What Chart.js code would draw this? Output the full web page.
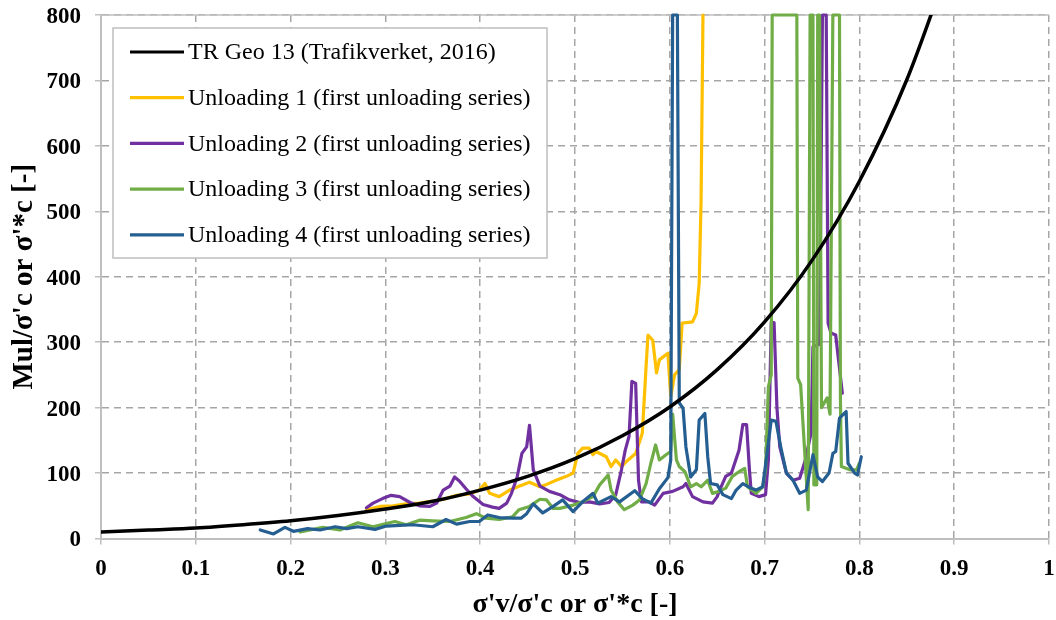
<!DOCTYPE html>
<html>
<head>
<meta charset="utf-8">
<title>Mul/σ'c vs σ'v/σ'c</title>
<script src="https://cdn.jsdelivr.net/npm/chart.js@4.4.1/dist/chart.umd.min.js"></script>
<style>
  html, body { margin: 0; padding: 0; background: #fff; }
  #wrap { width: 1056px; height: 620px; }
</style>
</head>
<body>
<div id="wrap"><canvas id="chart" width="1056" height="620"></canvas></div>
<script>
// ---------- data ----------
const seriesNames = [
    'TR Geo 13 (Trafikverket, 2016)',
    'Unloading 1 (first unloading series)',
    'Unloading 2 (first unloading series)',
    'Unloading 3 (first unloading series)',
    'Unloading 4 (first unloading series)'
];

// reference curve, read at 0.05 steps
const trGeoX = [0, 0.05, 0.1, 0.15, 0.2, 0.25, 0.3, 0.35, 0.4, 0.45, 0.5, 0.55, 0.6, 0.65, 0.7, 0.75, 0.8, 0.85, 0.9];
const trGeoY = [10, 13, 16, 21, 27, 35, 45, 57, 74, 95, 122, 157, 201, 258, 331, 425, 546, 701, 900];

// measured series, [σ'v/σ'c, Mul/σ'c]
const unloading1 = [[0.280,44],[0.294,49],[0.308,50],[0.322,53],[0.336,54],[0.350,57],[0.364,61],[0.375,66],[0.389,68],[0.399,74],[0.405,84],[0.410,69],[0.420,64],[0.431,74],[0.441,80],[0.452,86],[0.463,79],[0.469,82],[0.480,89],[0.491,95],[0.498,100],[0.503,130],[0.508,138],[0.515,138],[0.519,128],[0.522,133],[0.533,125],[0.538,110],[0.543,120],[0.549,110],[0.556,120],[0.564,130],[0.571,161],[0.575,263],[0.577,311],[0.582,303],[0.586,253],[0.589,273],[0.598,283],[0.601,217],[0.605,250],[0.610,258],[0.613,329],[0.624,331],[0.628,344],[0.631,390],[0.633,517],[0.635,800]];

const unloading2 = [[0.280,47],[0.287,54],[0.297,61],[0.306,66],[0.315,64],[0.326,55],[0.336,50],[0.347,49],[0.354,54],[0.361,74],[0.368,80],[0.373,94],[0.378,88],[0.385,76],[0.392,65],[0.403,52],[0.413,48],[0.420,46],[0.428,54],[0.433,69],[0.439,94],[0.444,130],[0.449,140],[0.452,173],[0.456,105],[0.463,80],[0.473,72],[0.484,67],[0.494,59],[0.505,55],[0.515,56],[0.526,53],[0.536,55],[0.543,67],[0.549,105],[0.553,135],[0.557,156],[0.560,240],[0.564,237],[0.567,89],[0.570,56],[0.578,56],[0.584,51],[0.593,69],[0.603,72],[0.614,79],[0.617,84],[0.624,64],[0.635,56],[0.645,54],[0.650,64],[0.652,72],[0.659,95],[0.665,100],[0.673,135],[0.677,174],[0.681,174],[0.684,105],[0.686,69],[0.694,64],[0.701,67],[0.704,120],[0.707,330],[0.710,330],[0.713,200],[0.716,140],[0.723,100],[0.730,89],[0.737,92],[0.743,120],[0.749,161],[0.751,293],[0.758,297],[0.761,800],[0.765,800],[0.767,329],[0.770,314],[0.775,311],[0.782,222]];

const unloading3 = [[0.210,10],[0.234,17],[0.252,13],[0.271,24],[0.287,18],[0.301,23],[0.310,26],[0.322,21],[0.336,28],[0.350,27],[0.368,26],[0.385,32],[0.396,38],[0.406,31],[0.420,29],[0.434,33],[0.441,44],[0.452,49],[0.463,60],[0.470,59],[0.477,46],[0.484,46],[0.498,51],[0.508,56],[0.519,64],[0.526,82],[0.535,97],[0.538,74],[0.545,56],[0.552,44],[0.561,51],[0.568,59],[0.575,84],[0.580,115],[0.585,143],[0.589,120],[0.596,128],[0.601,133],[0.603,190],[0.607,120],[0.610,110],[0.616,102],[0.622,79],[0.628,84],[0.633,79],[0.640,89],[0.645,69],[0.652,72],[0.659,77],[0.666,95],[0.673,102],[0.679,107],[0.682,79],[0.691,69],[0.698,79],[0.701,105],[0.704,232],[0.707,250],[0.708,800],[0.734,800],[0.735,245],[0.738,235],[0.746,44],[0.748,800],[0.751,800],[0.752,82],[0.755,82],[0.756,800],[0.758,800],[0.760,200],[0.766,215],[0.769,190],[0.772,800],[0.779,800],[0.780,212],[0.781,110],[0.790,105],[0.797,105],[0.800,115]];

const unloading4 = [[0.168,13],[0.182,7],[0.194,17],[0.203,11],[0.218,15],[0.231,13],[0.247,18],[0.259,15],[0.271,18],[0.289,14],[0.301,19],[0.315,20],[0.329,21],[0.350,18],[0.364,29],[0.375,22],[0.389,26],[0.399,26],[0.408,36],[0.420,32],[0.434,31],[0.443,31],[0.449,38],[0.456,53],[0.466,39],[0.477,49],[0.487,59],[0.498,41],[0.508,56],[0.519,69],[0.524,54],[0.538,64],[0.547,56],[0.563,73],[0.571,61],[0.580,54],[0.589,76],[0.598,93],[0.601,120],[0.603,800],[0.608,800],[0.610,207],[0.614,199],[0.617,140],[0.622,94],[0.628,105],[0.631,181],[0.637,191],[0.640,125],[0.643,84],[0.650,82],[0.656,67],[0.665,61],[0.670,74],[0.677,84],[0.684,78],[0.691,74],[0.698,79],[0.703,135],[0.707,181],[0.712,179],[0.717,140],[0.723,100],[0.730,89],[0.737,69],[0.744,74],[0.751,128],[0.756,94],[0.761,87],[0.768,100],[0.772,130],[0.775,133],[0.779,184],[0.786,194],[0.788,115],[0.795,100],[0.798,97],[0.802,125]];

const xMin = 0, xMax = 1, xStep = 0.1;
const yMin = 0, yMax = 800, yStep = 100;

// ---------- style ----------
const colors = ['#000000', '#FFC000', '#7030A0', '#70AD47', '#255E91'];
const serif = '"Liberation Serif", "Times New Roman", serif';
const gridGrey = '#a6a6a6';
const axisGrey = '#bfbfbf';

const toPoints = pairs => pairs.map(p => ({ x: p[0], y: p[1] }));

// top edge of the plot is a solid line, not a dashed grid line
const topEdge = {
    id: 'topEdge',
    beforeDatasetsDraw(chart) {
        const { ctx, chartArea } = chart;
        ctx.save();
        ctx.strokeStyle = axisGrey;
        ctx.lineWidth = 1.5;
        ctx.beginPath();
        ctx.moveTo(chartArea.left, chartArea.top);
        ctx.lineTo(chartArea.right, chartArea.top);
        ctx.stroke();
        ctx.restore();
    }
};

// boxed legend inside the plot, top-left
const legendBox = {
    id: 'legendBox',
    afterDatasetsDraw(chart) {
        const { ctx, chartArea } = chart;
        const x0 = chartArea.left + 12;
        const y0 = chartArea.top + 13;
        const w = 434, h = 230;
        ctx.save();
        ctx.fillStyle = '#fff';
        ctx.fillRect(x0, y0, w, h);
        ctx.strokeStyle = axisGrey;
        ctx.lineWidth = 1.5;
        ctx.strokeRect(x0, y0, w, h);
        ctx.font = '24px ' + serif;
        ctx.textBaseline = 'middle';
        seriesNames.forEach((name, i) => {
            const y = y0 + 24 + i * 45.7;
            ctx.strokeStyle = colors[i];
            ctx.lineWidth = 3.2;
            ctx.beginPath();
            ctx.moveTo(x0 + 17, y);
            ctx.lineTo(x0 + 71, y);
            ctx.stroke();
            ctx.fillStyle = '#000';
            ctx.fillText(name, x0 + 75, y + 1);
        });
        ctx.restore();
    }
};

function lineSet(label, data, color, width, order) {
    return {
        label: label,
        data: data,
        borderColor: color,
        backgroundColor: color,
        borderWidth: width,
        pointRadius: 0,
        tension: 0,
        fill: false,
        order: order,
        clip: { left: 0, top: 2, right: 0, bottom: 0 },
        borderJoinStyle: 'round',
        borderCapStyle: 'round'
    };
}

const trGeo = lineSet(seriesNames[0], trGeoX.map((x, i) => ({ x: x, y: trGeoY[i] })), colors[0], 3.5, 0);
trGeo.cubicInterpolationMode = 'monotone';
trGeo.clip = 0;

new Chart(document.getElementById('chart'), {
    type: 'line',
    data: {
        datasets: [
            trGeo,
            lineSet(seriesNames[4], toPoints(unloading4), colors[4], 3.2, 1),
            lineSet(seriesNames[3], toPoints(unloading3), colors[3], 3.2, 2),
            lineSet(seriesNames[2], toPoints(unloading2), colors[2], 3.2, 3),
            lineSet(seriesNames[1], toPoints(unloading1), colors[1], 3.2, 4)
        ]
    },
    options: {
        responsive: false,
        animation: false,
        layout: { padding: { top: 15, right: 7, left: 0, bottom: 0 } },
        plugins: {
            legend: { display: false },
            tooltip: { enabled: false }
        },
        scales: {
            x: {
                type: 'linear',
                min: xMin,
                max: xMax,
                afterFit: s => {
                    s.height = 81.5;
                    s.paddingLeft = 0;
                    s.paddingRight = 0;
                },
                ticks: {
                    stepSize: xStep,
                    color: '#000',
                    padding: 11,
                    maxRotation: 0,
                    font: { family: serif, size: 23, weight: 'bold' },
                    callback: v => String(Math.round(v * 10) / 10)
                },
                grid: { color: gridGrey, lineWidth: 1.5, tickLength: 6, tickColor: axisGrey },
                border: { color: axisGrey, width: 2, dash: [7, 5] },
                title: {
                    display: true,
                    text: "σ'v/σ'c or σ'*c [-]",
                    color: '#000',
                    font: { family: serif, size: 28, weight: 'bold', lineHeight: 1 },
                    padding: { top: 0, bottom: 1 }
                }
            },
            y: {
                type: 'linear',
                min: yMin,
                max: yMax,
                afterFit: s => {
                    s.width = 101;
                    s.paddingTop = 0;
                    s.paddingBottom = 0;
                },
                ticks: {
                    stepSize: yStep,
                    color: '#000',
                    padding: 14,
                    labelOffset: 2,
                    font: { family: serif, size: 23, weight: 'bold' }
                },
                grid: { color: gridGrey, lineWidth: 1.5, tickLength: 6, tickColor: axisGrey },
                border: { color: axisGrey, width: 2, dash: [7, 5] },
                title: {
                    display: true,
                    text: "Mul/σ'c or σ'*c [-]",
                    color: '#000',
                    font: { family: serif, size: 29, weight: 'bold', lineHeight: 1 },
                    padding: { top: 10, bottom: 0 }
                }
            }
        }
    },
    plugins: [topEdge, legendBox]
});
</script>
</body>
</html>
